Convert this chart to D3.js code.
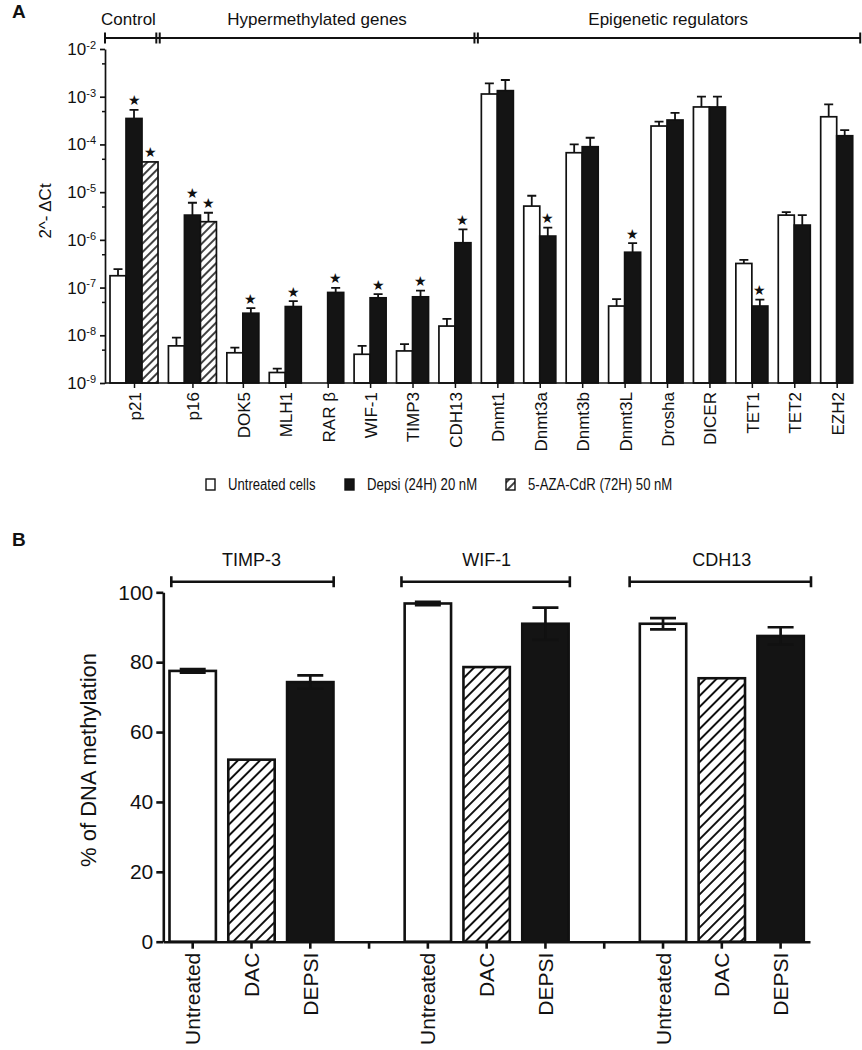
<!DOCTYPE html>
<html><head><meta charset="utf-8">
<script src="https://cdn.jsdelivr.net/npm/d3@7"></script>
<style>
body{margin:0;background:#fff}
svg{display:block}
text{font-family:"Liberation Sans",Arial,sans-serif;fill:#111}
</style>
</head><body><svg id="c" width="862" height="1050"></svg>
<script>
// ---------------- Panel A data ----------------
const categories = ["p21","p16","DOK5","MLH1","RAR β","WIF-1","TIMP3","CDH13","Dnmt1","Dnmt3a","Dnmt3b","Dnmt3L","Drosha","DICER","TET1","TET2","EZH2"];
const untreated    = [1.77e-7, 6.0e-9, 4.3e-9, 1.66e-9, null, 4.0e-9, 4.7e-9, 1.56e-8, 1.14e-3, 5.1e-6, 6.7e-5, 4.1e-8, 2.43e-4, 6.1e-4, 3.2e-7, 3.3e-6, 3.8e-4];
const untreatedErr = [0.67e-7, 2.9e-9, 1.2e-9, 0.34e-9, null, 2.0e-9, 1.8e-9, 0.64e-8, 0.76e-3, 3.3e-6, 3.3e-5, 1.6e-8, 0.57e-4, 3.9e-4, 0.6e-7, 0.5e-6, 3.1e-4];
const depsi        = [3.5e-4, 3.3e-6, 2.9e-8, 4.0e-8, 7.9e-8, 6.1e-8, 6.4e-8, 8.7e-7, 1.34e-3, 1.2e-6, 8.95e-5, 5.5e-7, 3.25e-4, 6.1e-4, 4.1e-8, 2.04e-6, 1.52e-4];
const depsiErr     = [1.8e-4, 2.7e-6, 0.8e-8, 1.2e-8, 2.0e-8, 1.2e-8, 2.2e-8, 7.9e-7, 0.9e-3, 0.6e-6, 4.85e-5, 3.0e-7, 1.35e-4, 3.9e-4, 1.5e-8, 1.26e-6, 0.48e-4];
const aza          = [4.3e-5, 2.4e-6, null, null, null, null, null, null, null, null, null, null, null, null, null, null, null];
const azaErr       = [0, 1.3e-6, null, null, null, null, null, null, null, null, null, null, null, null, null, null, null];
const depsiStar    = [1,1,1,1,1,1,1,1,0,1,0,1,0,0,1,0,0];
const azaStar      = [1,1,0,0,0,0,0,0,0,0,0,0,0,0,0,0,0];
const sectionNames = ["Control","Hypermethylated genes","Epigenetic regulators"];
const sectionLast  = [0, 7, 16];   // last category index of each section
const yTicksA      = [1e-9,1e-8,1e-7,1e-6,1e-5,1e-4,1e-3,1e-2];
const yMinorA      = [5e-9,5e-8,5e-7,5e-6,5e-5,5e-4,5e-3];
const legendLabels = ["Untreated cells","Depsi (24H) 20 nM","5-AZA-CdR (72H) 50 nM"];

// ---------------- Panel B data ----------------
const genesB       = ["TIMP-3","WIF-1","CDH13"];
const treatmentsB  = ["Untreated","DAC","DEPSI"];
const untreatedB   = [77.5, 96.8, 91.0];
const untreatedBErr= [0.5, 0.5, 1.6];
const dacB         = [52.1, 78.6, 75.4];
const depsiB       = [74.3, 91.0, 87.5];
const depsiBErr    = [1.9, 4.6, 2.5];
const yTicksB      = [0,20,40,60,80,100];

const svg = d3.select("#c");
const INK = "#111";
const defs = svg.append("defs");
function hatch(id, size, sw){
  const p = defs.append("pattern").attr("id",id).attr("patternUnits","userSpaceOnUse")
    .attr("width",size).attr("height",size).attr("patternTransform","rotate(45)");
  p.append("rect").attr("width",size).attr("height",size).attr("fill","#fff");
  p.append("line").attr("x1",size/2).attr("y1",0).attr("x2",size/2).attr("y2",size)
    .attr("stroke",INK).attr("stroke-width",sw);
}
hatch("hatchA", 6, 1.6);
hatch("hatchB", 7.8, 2.0);

// ================= PANEL A =================
const A = {left:105, top:49, bottom:383, x0:110, x1:852.7};
const yA = d3.scaleLog().domain([1e-9,1e-2]).range([A.bottom, A.top]);
const gapU = 0.65;
let pos = 0;
const groups = categories.map((c,i)=>{
  const n = aza[i]!=null ? 3 : 2;
  const g = {cat:c, i, start:pos, n};
  pos += n + gapU;
  return g;
});
const totalU = pos - gapU;
const xU = d3.scaleLinear().domain([0,totalU]).range([A.x0, A.x1]);
const bwA = xU(1)-xU(0);

const gA = svg.append("g");
gA.append("text").attr("x",12).attr("y",18).attr("font-size",19).attr("font-weight","bold").text("A");

const seriesA = [
  {vals:untreated, errs:untreatedErr, fill:"#fff", star:null},
  {vals:depsi, errs:depsiErr, fill:"#141414", star:depsiStar},
  {vals:aza, errs:azaErr, fill:"url(#hatchA)", star:azaStar}
];
const barsA = [];
groups.forEach(g=>{
  seriesA.forEach((s,j)=>{
    if (j >= g.n) return;
    const v = s.vals[g.i];
    if (v == null) return;
    barsA.push({x:xU(g.start+j), v, e:s.errs[g.i]||0, fill:s.fill, star:s.star?s.star[g.i]:0});
  });
});
gA.selectAll("rect.bar").data(barsA).join("rect").attr("class","bar")
  .attr("x",d=>d.x).attr("width",bwA)
  .attr("y",d=>yA(d.v)).attr("height",d=>A.bottom-yA(d.v))
  .attr("fill",d=>d.fill).attr("stroke",INK).attr("stroke-width",1.7);
// error bars (upper only)
const errA = barsA.filter(d=>d.e>0);
gA.selectAll("path.err").data(errA).join("path").attr("class","err")
  .attr("d",d=>{const cx=d.x+bwA/2, y0=yA(d.v), y1=yA(d.v+d.e);
    return `M${cx},${y0}V${y1}M${cx-4.5},${y1}H${cx+4.5}`;})
  .attr("fill","none").attr("stroke",INK).attr("stroke-width",1.8);
// stars
gA.selectAll("text.star").data(barsA.filter(d=>d.star)).join("text").attr("class","star")
  .attr("x",d=>d.x+bwA/2).attr("y",d=>yA(d.v+d.e)-4.5)
  .attr("text-anchor","middle").attr("font-size",14)
  .attr("font-family","DejaVu Sans").text("★");

// y axis
const axA = gA.append("g").attr("transform",`translate(${A.left},0)`)
  .call(d3.axisLeft(yA).tickValues(yTicksA).tickSize(5).tickSizeOuter(0).tickPadding(4).tickFormat(()=>""));
axA.selectAll("path,line").attr("stroke",INK).attr("stroke-width",1.7);
axA.selectAll(".tick text").each(function(d){
  const t = d3.select(this).attr("font-size",17).attr("font-family","Liberation Sans").attr("fill",INK);
  t.append("tspan").text("10");
  t.append("tspan").attr("dy","-0.55em").attr("font-size",11).text(String(Math.round(Math.log10(d))));
});
const axAm = gA.append("g").attr("transform",`translate(${A.left},0)`)
  .call(d3.axisLeft(yA).tickValues(yMinorA).tickSize(3).tickFormat(()=>""));
axAm.select(".domain").remove();
axAm.selectAll("line").attr("stroke",INK).attr("stroke-width",1.5);
gA.append("text").attr("transform",`translate(51,211) rotate(-90)`)
  .attr("text-anchor","middle").attr("font-size",17).text("2^- ΔCt");

// x axis
const centers = groups.map(g=>xU(g.start + g.n/2));
const xCat = d3.scaleOrdinal().domain(categories).range(centers);
const axX = gA.append("g").attr("transform",`translate(0,${A.bottom})`)
  .call(d3.axisBottom(xCat).tickSize(5).tickSizeOuter(0));
axX.select(".domain").remove();
axX.selectAll("line").attr("stroke",INK).attr("stroke-width",1.5);
axX.selectAll("text").attr("font-size",17).attr("font-family","Liberation Sans").attr("fill",INK)
  .attr("text-anchor","end").attr("transform","rotate(-90)")
  .attr("x",-9).attr("y",0).attr("dy","0.38em");
gA.append("line").attr("x1",A.left).attr("x2",xU(totalU)).attr("y1",A.bottom).attr("y2",A.bottom)
  .attr("stroke",INK).attr("stroke-width",1.7);

// section brackets
const bY = 38;
const bounds = [A.left];
sectionLast.forEach((li,k)=>{
  const g = groups[li];
  if (k === 0) bounds.push(xU(g.start+g.n));
  else if (k < sectionLast.length-1) bounds.push((xU(g.start+g.n)+xU(groups[li+1].start))/2);
  else bounds.push(xU(totalU)+7.5);
});
const br = gA.append("g").attr("stroke",INK).attr("stroke-width",2).attr("fill","none");
br.append("line").attr("x1",bounds[0]).attr("x2",bounds[bounds.length-1]).attr("y1",bY).attr("y2",bY);
bounds.forEach((b,k)=>{
  if (k===0 || k===bounds.length-1) {
    br.append("line").attr("x1",b).attr("x2",b).attr("y1",bY-5.5).attr("y2",bY+5.5);
  } else {
    [-1.7,1.7].forEach(o=>br.append("line").attr("x1",b+o).attr("x2",b+o).attr("y1",bY-5.5).attr("y2",bY+5.5));
  }
});
sectionNames.forEach((n,k)=>{
  gA.append("text").attr("x",(bounds[k]+bounds[k+1])/2 + (k===0?-3:0)).attr("y",25)
    .attr("text-anchor","middle").attr("font-size",17).text(n);
});

// legend
const legX = [206, 345, 506];
const legFill = ["#fff","#141414","url(#hatchA)"];
legendLabels.forEach((l,k)=>{
  gA.append("rect").attr("x",legX[k]).attr("y",479).attr("width",9).attr("height",11)
    .attr("fill",legFill[k]).attr("stroke",INK).attr("stroke-width",1.4);
  gA.append("text").attr("transform",`translate(${legX[k]+22},490) scale(0.82,1)`)
    .attr("font-size",16).text(l);
});

// ================= PANEL B =================
const B = {left:163.3, right:810, top:592.3, bottom:941.7};
const gB = svg.append("g");
gB.append("text").attr("x",12).attr("y",546).attr("font-size",19).attr("font-weight","bold").text("B");

const yB = d3.scaleLinear().domain([0,100]).range([B.bottom, B.top]);
const slots = [];
genesB.forEach((g,gi)=>{
  treatmentsB.forEach(t=>slots.push(g+"|"+t));
  if (gi < genesB.length-1) slots.push("gap"+gi);
});
const xB = d3.scaleBand().domain(slots).range([B.left, B.right]).paddingInner(0.17).paddingOuter(0.085);
const bwB = xB.bandwidth();

const barsB = [];
genesB.forEach((g,gi)=>{
  barsB.push({slot:g+"|Untreated", v:untreatedB[gi], e:untreatedBErr[gi], fill:"#fff"});
  barsB.push({slot:g+"|DAC", v:dacB[gi], e:0, fill:"url(#hatchB)"});
  barsB.push({slot:g+"|DEPSI", v:depsiB[gi], e:depsiBErr[gi], fill:"#141414"});
});
gB.selectAll("rect.bar").data(barsB).join("rect").attr("class","bar")
  .attr("x",d=>xB(d.slot)+1.2).attr("width",bwB-2.4)
  .attr("y",d=>yB(d.v)).attr("height",d=>B.bottom-yB(d.v))
  .attr("fill",d=>d.fill).attr("stroke",INK).attr("stroke-width",2.6);
gB.selectAll("path.err").data(barsB.filter(d=>d.e>0)).join("path").attr("class","err")
  .attr("d",d=>{const cx=xB(d.slot)+bwB/2, y1=yB(d.v+d.e), y2=yB(d.v-d.e);
    return `M${cx},${y2}V${y1}M${cx-13},${y1}H${cx+13}M${cx-13},${y2}H${cx+13}`;})
  .attr("fill","none").attr("stroke",INK).attr("stroke-width",2.7);

const axBy = gB.append("g").attr("transform",`translate(${B.left},0)`)
  .call(d3.axisLeft(yB).tickValues(yTicksB).tickSize(7).tickSizeOuter(0).tickPadding(3));
axBy.selectAll("path,line").attr("stroke",INK).attr("stroke-width",2.6);
axBy.selectAll("text").attr("font-size",21).attr("font-family","Liberation Sans").attr("fill",INK);

const axBx = gB.append("g").attr("transform",`translate(0,${B.bottom})`)
  .call(d3.axisBottom(xB).tickSize(7).tickSizeOuter(0).tickFormat(d=>d.startsWith("gap")?"":d.split("|")[1]));
axBx.selectAll("path,line").attr("stroke",INK).attr("stroke-width",2.6);
axBx.selectAll("text").attr("font-size",21).attr("font-family","Liberation Sans").attr("fill",INK)
  .attr("text-anchor","end").attr("transform","rotate(-90)")
  .attr("x",-11).attr("y",0).attr("dy","0.36em");

gB.append("text").attr("transform",`translate(96,760) rotate(-90)`)
  .attr("text-anchor","middle").attr("font-size",22).text("% of DNA methylation");

const brPad = [[3,-1],[-2,0],[-9,6]];
genesB.forEach((g,gi)=>{
  const x1 = xB(g+"|Untreated")+brPad[gi][0], x2 = xB(g+"|DEPSI")+bwB+brPad[gi][1];
  const by = 581.7;
  gB.append("path").attr("d",`M${x1},${by}H${x2}M${x1},${by-5.5}V${by+5.5}M${x2},${by-5.5}V${by+5.5}`)
    .attr("stroke",INK).attr("stroke-width",2.6).attr("fill","none");
  gB.append("text").attr("x",xB(g+"|DAC")+bwB/2).attr("y",566)
    .attr("text-anchor","middle").attr("font-size",18).text(g);
});
</script>
</body></html>
